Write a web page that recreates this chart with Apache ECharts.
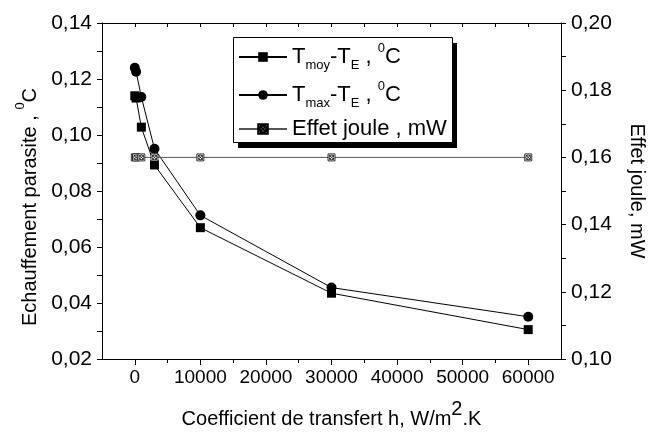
<!DOCTYPE html>
<html>
<head>
<meta charset="utf-8">
<script src="https://cdn.jsdelivr.net/npm/echarts@6/dist/echarts.min.js"></script>
<style>html,body{margin:0;padding:0;background:#fff}#c{width:655px;height:434px}</style>
</head>
<body>
<div id="c"></div>
<script>
// Data
const h = [0, 200, 1000, 3000, 10000, 30000, 60000];
const tMoy = [0.1140, 0.1132, 0.1028, 0.0893, 0.0669, 0.0435, 0.0305];
const tMax = [0.1240, 0.1226, 0.1136, 0.0951, 0.0713, 0.0455, 0.0351];
const effetJoule = [0.16, 0.16, 0.16, 0.16, 0.16, 0.16, 0.16];
const xMajorTicks = [0, 10000, 20000, 30000, 40000, 50000, 60000];
const xMinorTicks = [5000, 15000, 25000, 35000, 45000, 55000];
const xTopTicks = [0, 5000, 10000, 15000, 20000, 25000, 30000, 35000, 40000, 45000, 50000, 55000, 60000];

const FONT = "'Liberation Sans', Arial, sans-serif";
const comma = v => v.toFixed(2).replace('.', ',');
const pairs = (xs, ys) => xs.map((x, i) => [x, ys[i]]);

const jouleSymbol = 'path://M0,0 L10,0 L10,10 L0,10 Z M5,1.6 A3.4,3.4 0 1 1 4.99,1.6 Z M1.5,1.5 L8.5,8.5 M8.5,1.5 L1.5,8.5';

const chart = echarts.init(document.getElementById('c'), null, {renderer: 'canvas'});
const legendRich = {
  n: {fontSize: 22, fontFamily: FONT, color: '#000', lineHeight: 30},
  j: {fontSize: 22, fontFamily: FONT, color: '#000', lineHeight: 22},
  sub: {fontSize: 13, fontFamily: FONT, color: '#000', verticalAlign: 'bottom', lineHeight: 30},
  sup: {fontSize: 13, fontFamily: FONT, color: '#000', verticalAlign: 'top', lineHeight: 30}
};
const legendText = {
  'Tmoy': '{n|T}{sub|moy}{n|-T}{sub|E}{n| , }{sup|0}{n|C}',
  'Tmax': '{n|T}{sub|max}{n|-T}{sub|E}{n| , }{sup|0}{n|C}',
  'Joule': '{j|Effet joule , mW}'
};

chart.setOption({
  animation: false,
  backgroundColor: '#fff',
  grid: {left: 102, right: 92, top: 23, bottom: 71, containLabel: false},
  graphic: [
    {type: 'rect', left: 238, top: 43, z: 0, silent: true,
     shape: {width: 219, height: 105}, style: {fill: '#000'}},
    {type: 'rect', left: 233, top: 37, z: 1, silent: true,
     shape: {width: 219, height: 105}, style: {fill: '#fff', stroke: '#000', lineWidth: 1}}
  ],
  legend: {
    orient: 'vertical',
    left: 238, top: 42,
    padding: 0,
    itemGap: 8,
    itemWidth: 48, itemHeight: 12,
    z: 10,
    data: ['Tmoy', 'Tmax', 'Joule'],
    formatter: name => legendText[name],
    textStyle: {rich: legendRich}
  },
  xAxis: [
    {
      type: 'value', position: 'bottom', min: -5000, max: 65000, interval: 5000,
      name: '{a|Coefficient de transfert h, W/m}{s|2}{a|.K}',
      nameLocation: 'middle', nameGap: 40,
      nameTextStyle: {rich: {
        a: {fontSize: 20, fontFamily: FONT, color: '#000', lineHeight: 30, verticalAlign: 'bottom'},
        s: {fontSize: 20, fontFamily: FONT, color: '#000', lineHeight: 30, verticalAlign: 'top'}
      }},
      axisLine: {show: true, onZero: false, lineStyle: {color: '#000', width: 1}},
      axisTick: {show: true, inside: false, length: 6, customValues: xMajorTicks, lineStyle: {color: '#000'}},
      axisLabel: {customValues: xMajorTicks, fontSize: 19, fontFamily: FONT, color: '#000', margin: 9,
        formatter: v => (v % 10000 === 0 && v >= 0 && v <= 60000) ? String(v) : ''},
      splitLine: {show: false}
    },
    {
      type: 'value', position: 'bottom', min: -5000, max: 65000, interval: 5000,
      axisLine: {show: false, onZero: false},
      axisTick: {show: true, inside: false, length: 4, customValues: xMinorTicks, lineStyle: {color: '#000'}},
      axisLabel: {show: false},
      splitLine: {show: false}
    },
    {
      type: 'value', position: 'top', min: -5000, max: 65000, interval: 5000,
      axisLine: {show: true, onZero: false, lineStyle: {color: '#000', width: 1}},
      axisTick: {show: true, inside: true, length: 4, customValues: xTopTicks, lineStyle: {color: '#000'}},
      axisLabel: {show: false},
      splitLine: {show: false}
    }
  ],
  yAxis: [
    {
      type: 'value', position: 'left', min: 0.02, max: 0.14, interval: 0.02,
      name: '{a|Echauffement parasite , }{s|0}{a|C}',
      nameLocation: 'middle', nameRotate: 90, nameGap: 62,
      nameTextStyle: {padding: [0, 32, 0, 0], rich: {
        a: {fontSize: 20, fontFamily: FONT, color: '#000', lineHeight: 26, verticalAlign: 'bottom'},
        s: {fontSize: 13, fontFamily: FONT, color: '#000', lineHeight: 26, verticalAlign: 'top'}
      }},
      axisLine: {show: true, onZero: false, lineStyle: {color: '#000', width: 1}},
      axisTick: {show: true, inside: false, length: 5, lineStyle: {color: '#000'}},
      minorTick: {show: true, splitNumber: 2, length: 5, lineStyle: {color: '#000'}},
      axisLabel: {fontSize: 21, fontFamily: FONT, color: '#000', margin: 10, formatter: comma},
      splitLine: {show: false}
    },
    {
      type: 'value', position: 'right', min: 0.10, max: 0.20, interval: 0.02,
      name: 'Effet joule, mW',
      nameLocation: 'middle', nameRotate: -90, nameGap: 66,
      nameTextStyle: {fontSize: 20, fontFamily: FONT, color: '#000'},
      axisLine: {show: true, onZero: false, lineStyle: {color: '#000', width: 1}},
      axisTick: {show: true, inside: false, length: 5, lineStyle: {color: '#000'}},
      minorTick: {show: true, splitNumber: 2, length: 5, lineStyle: {color: '#000'}},
      axisLabel: {fontSize: 21, fontFamily: FONT, color: '#000', margin: 10, formatter: comma},
      splitLine: {show: false}
    }
  ],
  series: [
    {
      name: 'Tmoy', type: 'line', xAxisIndex: 0, yAxisIndex: 0,
      data: pairs(h, tMoy),
      symbol: 'rect', symbolSize: 9,
      lineStyle: {color: '#000', width: 1},
      itemStyle: {color: '#000'}
    },
    {
      name: 'Tmax', type: 'line', xAxisIndex: 0, yAxisIndex: 0,
      data: pairs(h, tMax),
      symbol: 'circle', symbolSize: 10,
      lineStyle: {color: '#000', width: 1},
      itemStyle: {color: '#000'}
    },
    {
      name: 'Joule', type: 'line', xAxisIndex: 0, yAxisIndex: 1,
      data: pairs(h, effetJoule),
      symbol: jouleSymbol, symbolSize: 7,
      lineStyle: {color: '#555', width: 1},
      itemStyle: {color: '#fff', borderColor: '#000', borderWidth: 0.8}
    }
  ]
});
</script>
</body>
</html>
